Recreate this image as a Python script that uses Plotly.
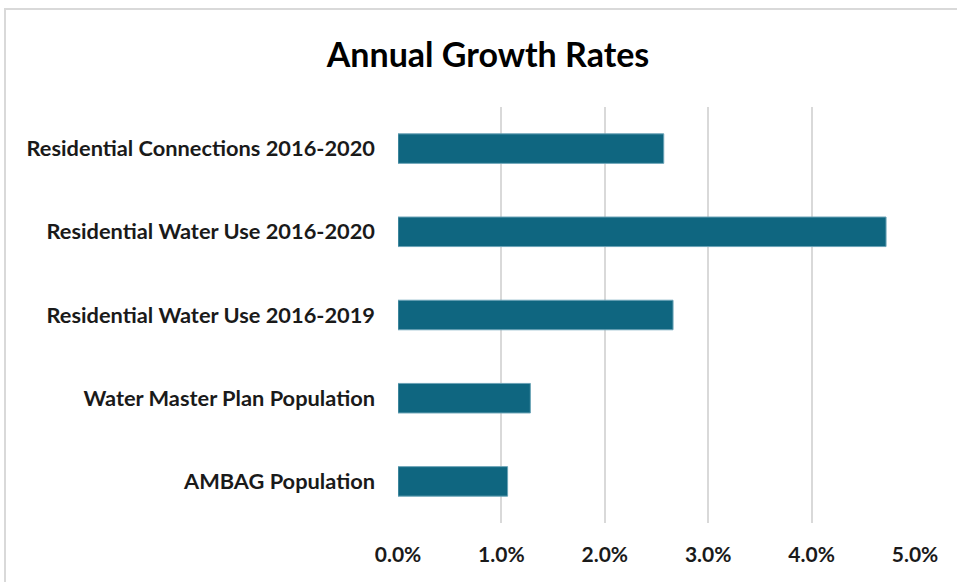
import plotly.graph_objects as go

categories = [
    "Residential Connections 2016-2020",
    "Residential Water Use 2016-2020",
    "Residential Water Use 2016-2019",
    "Water Master Plan Population",
    "AMBAG Population",
]
growth_rates = [0.0257, 0.0472, 0.0266, 0.0128, 0.0106]
tick_values = [0, 0.01, 0.02, 0.03, 0.04, 0.05]
tick_labels = ["0.0%", "1.0%", "2.0%", "3.0%", "4.0%", "5.0%"]

W, H = 957, 582
ml, mr, mt, mb = 398, 42, 107, 59

fig = go.Figure(
    go.Bar(
        x=growth_rates,
        y=categories,
        orientation="h",
        marker=dict(color="#0f6680", line=dict(color="#6aa3b6", width=1)),
        hoverinfo="x+y",
    )
)

pw = W - ml - mr
ph = H - mt - mb

fig.update_layout(
    width=W,
    height=H,
    margin=dict(l=ml, r=mr, t=mt, b=mb),
    paper_bgcolor="white",
    plot_bgcolor="white",
    bargap=0.645,
    showlegend=False,
    font=dict(family="Lato, 'Open Sans', sans-serif", color="#1a1a1a"),
    title=dict(
        text="<b>Annual Growth Rates</b>",
        x=488 / W,
        xanchor="center",
        y=1 - 55 / H,
        yanchor="middle",
        font=dict(size=34, color="#000000"),
    ),
    xaxis=dict(
        range=[0, 0.05],
        tickvals=tick_values,
        ticktext=[f"<b>{t}</b>" for t in tick_labels],
        showgrid=True,
        gridcolor="#d9d9d9",
        gridwidth=2,
        zeroline=False,
        showline=False,
        ticks="",
        ticklabelstandoff=17,
        tickfont=dict(size=21, color="#1a1a1a"),
        fixedrange=True,
    ),
    yaxis=dict(
        categoryorder="array",
        categoryarray=categories[::-1],
        tickvals=categories,
        ticktext=[f"<b>{c}</b>" for c in categories],
        showgrid=False,
        zeroline=False,
        showline=False,
        ticks="",
        ticklabelstandoff=22,
        tickfont=dict(size=21.8, color="#1a1a1a"),
        fixedrange=True,
    ),
    shapes=[
        dict(
            type="rect",
            xref="paper",
            yref="paper",
            x0=(5 - ml) / pw,
            x1=(W + 10 - ml) / pw,
            y0=-(H + 10 - (H - mb)) / ph,
            y1=((H - mb) - 9) / ph,
            line=dict(color="#d9d9d9", width=2),
            fillcolor="rgba(0,0,0,0)",
            layer="below",
        )
    ],
)

fig.write_html("out.html")
